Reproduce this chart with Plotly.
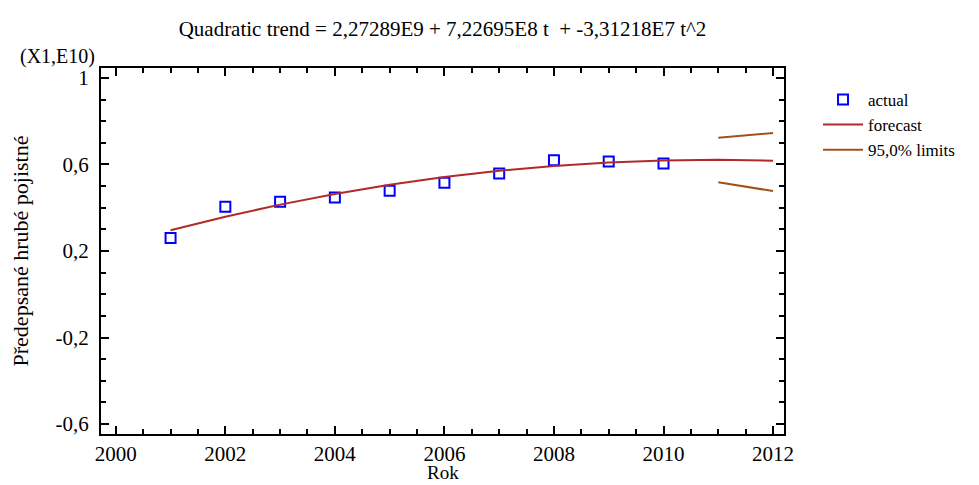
import plotly.graph_objects as go

# Observed yearly values (units of 1E10)
years = [2001, 2002, 2003, 2004, 2005, 2006, 2007, 2008, 2009, 2010]
actual = [0.260, 0.405, 0.428, 0.447, 0.479, 0.516, 0.558, 0.619, 0.614, 0.605]

# Fitted quadratic trend, including the two forecast years
trend_years = [2001, 2002, 2003, 2004, 2005, 2006, 2007, 2008, 2009, 2010, 2011, 2012]
trend = [0.2962, 0.3586, 0.4143, 0.4634, 0.5058, 0.5417, 0.5709, 0.5935,
         0.6094, 0.6188, 0.6215, 0.6176]

# 95% prediction limits for the forecast years
limit_years = [2011, 2012]
upper = [0.724, 0.745]
lower = [0.518, 0.477]

x_ticks = [2000, 2002, 2004, 2006, 2008, 2010, 2012]
y_ticks = [-0.6, -0.2, 0.2, 0.6, 1.0]
y_tick_text = ["-0,6", "-0,2", "0,2", "0,6", "1"]

FONT = "Liberation Serif"
FS = 21
RED = "#B02A2A"
BROWN = "#A0521A"

fig = go.Figure()
fig.add_trace(go.Scatter(
    x=years, y=actual, mode="markers", name="actual",
    marker=dict(symbol="square-open", size=10, color="#0000FF",
                line=dict(width=2, color="#0000FF")),
))
fig.add_trace(go.Scatter(
    x=trend_years, y=trend, mode="lines", name="forecast",
    line=dict(color=RED, width=2),
))
fig.add_trace(go.Scatter(
    x=limit_years, y=upper, mode="lines", name="95,0% limits",
    line=dict(color=BROWN, width=2), legendgroup="lim",
))
fig.add_trace(go.Scatter(
    x=limit_years, y=lower, mode="lines", name="95,0% limits",
    line=dict(color=BROWN, width=2), legendgroup="lim", showlegend=False,
))

axis_common = dict(
    showline=True, linecolor="black", linewidth=2, mirror="allticks",
    ticks="inside", ticklen=8, tickwidth=2, tickcolor="black",
    showgrid=False, zeroline=False, automargin=False,
    tickfont=dict(family=FONT, size=FS, color="black"),
)

fig.update_xaxes(
    range=[1999.73, 2012.2], tickvals=x_ticks,
    minor=dict(dtick=0.5, tick0=2000, ticks="inside", ticklen=5,
               tickwidth=1.5, tickcolor="black"),
    ticklabelstandoff=0,
    **axis_common,
)
fig.update_yaxes(
    range=[-0.646, 1.046], tickvals=y_ticks, ticktext=y_tick_text,
    minor=dict(dtick=0.1, tick0=0.2, ticks="inside", ticklen=5,
               tickwidth=1.5, tickcolor="black"),
    title=dict(text="Předepsané hrubé pojistné",
               font=dict(family=FONT, size=22, color="black"), standoff=21),
    ticklabelstandoff=6,
    **axis_common,
)

# x-axis title placed below the tick labels
fig.add_annotation(
    text="Rok", xref="paper", yref="paper", x=0.5, y=0,
    xanchor="center", yanchor="middle", yshift=-38, showarrow=False,
    font=dict(family=FONT, size=19, color="black"),
)
# scale factor of the value axis
fig.add_annotation(
    text="(X1,E10)", xref="paper", yref="paper", x=0, y=1,
    xanchor="right", yanchor="bottom", xshift=-4, yshift=-2, showarrow=False,
    font=dict(family=FONT, size=20, color="black"),
)

fig.update_layout(
    width=979, height=485,
    margin=dict(l=101, r=195, t=68, b=51),
    paper_bgcolor="white", plot_bgcolor="white",
    font=dict(family=FONT, size=FS, color="black"),
    title=dict(
        text="Quadratic trend = 2,27289E9 + 7,22695E8 t  + -3,31218E7 t^2",
        x=0.452, xanchor="center", y=0.94, yanchor="middle",
        font=dict(family=FONT, size=FS, color="black"),
    ),
    legend=dict(
        x=1.0498, xanchor="left", y=0.962, yanchor="top",
        font=dict(family=FONT, size=17, color="black"),
        bgcolor="rgba(0,0,0,0)", tracegroupgap=0, itemwidth=40,
    ),
    showlegend=True,
)

fig.write_html("out.html")
